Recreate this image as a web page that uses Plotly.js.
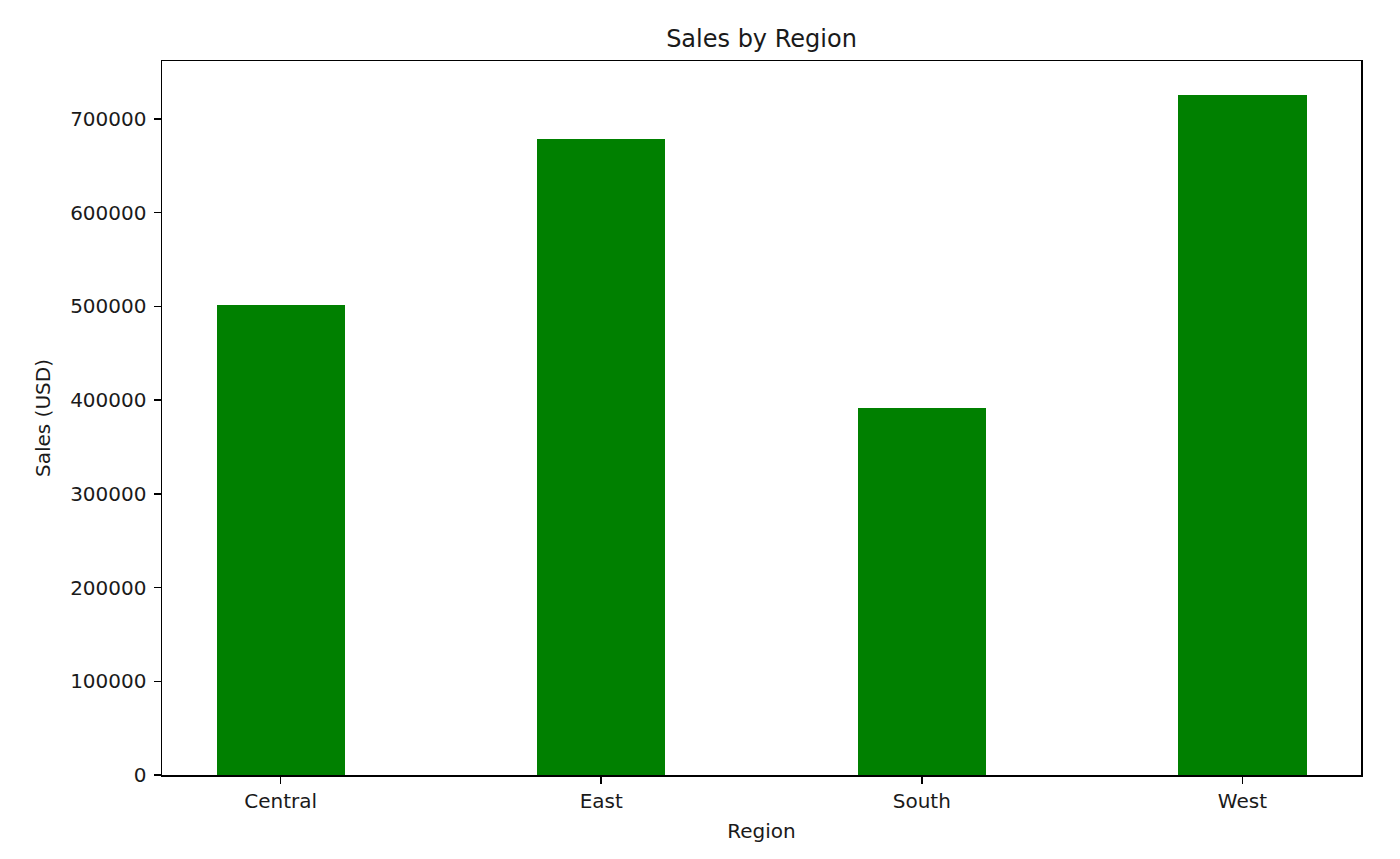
<!DOCTYPE html>
<html><head><meta charset="utf-8">
<script src="https://cdn.plot.ly/plotly-3.0.1.min.js"></script>
<style>html,body{margin:0;padding:0;background:#fff}#chart{width:1400px;height:859px}</style>
</head><body><div id="chart"></div>
<script>
const regions = ["Central", "East", "South", "West"];
const sales = [501240, 678781, 391722, 725458];
const yTicks = [0, 100000, 200000, 300000, 400000, 500000, 600000, 700000];

const maxSales = Math.max(...sales);
const trace = {
  type: "bar",
  x: regions.map((_, i) => i),
  y: sales,
  width: 0.4,
  marker: {color: "#008000", line: {width: 0}},
  hoverinfo: "x+y"
};
const font = {family: "DejaVu Sans, sans-serif", size: 20, color: "#1a1a1a"};
const layout = {
  width: 1400, height: 859,
  margin: {l: 162, r: 39, t: 61, b: 84},
  paper_bgcolor: "#fff", plot_bgcolor: "#fff",
  font: font,
  showlegend: false,
  bargap: 0,
  title: {text: "Sales by Region", font: {family: font.family, size: 24, color: "#1a1a1a"},
          x: 0.5, xref: "paper", y: 1 - 39/859, yref: "container", yanchor: "middle"},
  xaxis: {
    range: [-0.37, 3.37],
    tickmode: "array", tickvals: regions.map((_, i) => i), ticktext: regions,
    ticks: "outside", ticklen: 7, tickwidth: 1.5, tickcolor: "#000",
    showline: true, linecolor: "#000", linewidth: 1.5, mirror: true,
    showgrid: false, zeroline: false,
    tickfont: font,
    title: {text: "Region", font: font, standoff: 12}
  },
  yaxis: {
    range: [0, maxSales * 1.05],
    tickmode: "array", tickvals: yTicks, ticktext: yTicks.map(String),
    ticks: "outside", ticklen: 7, tickwidth: 1.5, tickcolor: "#000",
    ticklabelstandoff: 3,
    showline: true, linecolor: "#000", linewidth: 1.5, mirror: true,
    showgrid: false, zeroline: false,
    tickfont: font,
    title: {text: "Sales (USD)", font: font, standoff: 14}
  }
};
Plotly.newPlot("chart", [trace], layout, {displayModeBar: false, staticPlot: true});
</script></body></html>
